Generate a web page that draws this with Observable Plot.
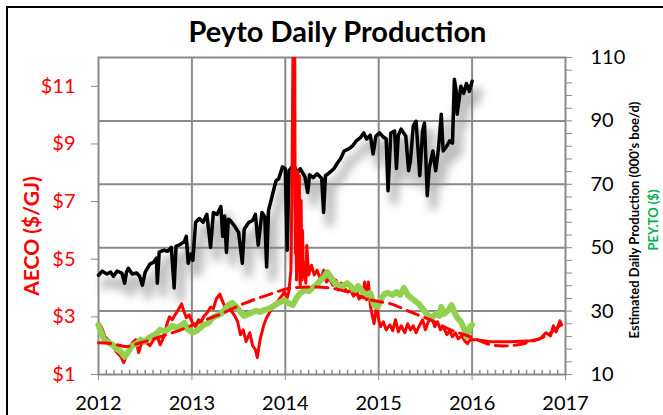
<!DOCTYPE html>
<html><head><meta charset="utf-8">
<script src="https://cdn.jsdelivr.net/npm/d3@7"></script>
<script src="https://cdn.jsdelivr.net/npm/@observablehq/plot@0.6"></script>
<style>
html,body{margin:0;padding:0;background:#fff;overflow:hidden;}
#wrap{position:relative;width:663px;height:415px;overflow:hidden;font-family:Lato,sans-serif;}
#border{position:absolute;left:6px;top:6px;width:720px;height:460px;border:2px solid #000;box-sizing:border-box;}
#title{position:absolute;left:0;top:16px;width:675px;text-align:center;font-weight:bold;font-size:29px;line-height:1;color:#000;}
#chart{position:absolute;left:0;top:0;}
</style></head><body>
<div id="wrap"><div id="border"></div><div id="chart"></div><div id="title">Peyto Daily Production</div></div>
<script>
// Estimated daily production (000's boe/d) — right axis
const production = [
[2012.00,41.3],[2012.04,42.6],[2012.09,41.7],[2012.13,42.3],[2012.16,41.0],[2012.20,42.6],[2012.25,42.0],[2012.28,38.8],
[2012.30,42.3],[2012.32,43.5],[2012.36,41.7],[2012.41,42.0],[2012.44,41.0],[2012.47,38.2],[2012.50,42.3],[2012.55,44.8],
[2012.59,45.4],[2012.62,46.7],[2012.63,38.8],[2012.65,48.6],[2012.70,49.2],[2012.74,48.9],[2012.78,50.1],[2012.81,37.3],
[2012.83,50.4],[2012.88,51.1],[2012.92,52.0],[2012.94,53.6],[2012.96,45.1],[2012.99,48.0],[2013.01,46.0],[2013.04,58.0],
[2013.08,59.2],[2013.12,58.0],[2013.16,60.5],[2013.20,50.1],[2013.23,61.1],[2013.27,60.5],[2013.31,63.0],[2013.33,53.6],
[2013.35,60.0],[2013.37,48.5],[2013.39,59.0],[2013.41,58.6],[2013.46,56.7],[2013.50,54.8],[2013.54,45.1],[2013.56,55.8],
[2013.61,58.0],[2013.65,58.6],[2013.68,60.5],[2013.71,50.8],[2013.75,61.1],[2013.78,59.8],[2013.80,43.9],[2013.82,61.7],
[2013.86,66.4],[2013.90,71.1],[2013.93,71.8],[2013.97,75.5],[2014.00,74.9],[2014.02,49.2],[2014.04,74.3],[2014.09,76.1],
[2014.13,73.6],[2014.16,74.9],[2014.21,72.4],[2014.24,67.4],[2014.26,73.0],[2014.30,72.1],[2014.34,73.3],[2014.39,71.8],
[2014.41,61.1],[2014.43,72.7],[2014.47,73.6],[2014.52,74.9],[2014.56,76.8],[2014.59,78.0],[2014.63,80.5],[2014.68,81.2],
[2014.72,82.1],[2014.76,83.7],[2014.81,84.9],[2014.84,86.2],[2014.87,84.3],[2014.91,85.5],[2014.94,79.6],[2014.97,85.2],
[2015.01,86.2],[2015.05,84.9],[2015.08,84.3],[2015.10,68.0],[2015.13,86.2],[2015.17,86.8],[2015.19,75.0],[2015.21,85.5],
[2015.24,87.4],[2015.29,85.2],[2015.32,74.3],[2015.34,77.4],[2015.37,88.4],[2015.40,89.9],[2015.44,72.7],[2015.47,86.8],
[2015.49,89.3],[2015.52,66.4],[2015.54,74.9],[2015.58,80.5],[2015.61,74.3],[2015.64,81.2],[2015.67,92.1],[2015.69,80.5],
[2015.73,82.1],[2015.76,83.7],[2015.79,83.0],[2015.81,103.1],[2015.83,99.3],[2015.84,92.1],[2015.88,100.9],[2015.91,98.7],
[2015.94,101.8],[2015.97,99.3],[2016.00,102.5]
];
// AECO gas price ($/GJ) — left axis
const aeco = [
[2012.00,2.79],[2012.03,2.66],[2012.07,2.31],[2012.11,2.17],[2012.15,2.03],[2012.19,1.79],[2012.24,1.62],[2012.27,1.41],
[2012.30,1.66],[2012.33,1.79],[2012.36,2.10],[2012.40,2.21],[2012.43,1.76],[2012.46,2.07],[2012.50,2.14],[2012.55,2.00],
[2012.59,2.21],[2012.63,2.31],[2012.66,2.03],[2012.70,2.31],[2012.73,2.72],[2012.76,3.00],[2012.79,2.90],[2012.82,3.07],
[2012.86,3.28],[2012.89,3.45],[2012.91,3.24],[2012.94,2.97],[2012.97,3.07],[2013.01,2.76],[2013.04,2.66],[2013.07,2.90],
[2013.10,2.83],[2013.13,3.03],[2013.17,3.17],[2013.20,3.34],[2013.23,3.28],[2013.26,3.62],[2013.30,3.79],[2013.33,3.52],
[2013.36,3.31],[2013.39,3.45],[2013.42,3.21],[2013.46,3.03],[2013.49,2.83],[2013.52,2.38],[2013.55,2.55],[2013.58,2.14],
[2013.62,2.45],[2013.65,2.00],[2013.68,1.86],[2013.70,1.59],[2013.73,2.21],[2013.77,2.72],[2013.80,2.97],[2013.83,3.14],
[2013.86,3.31],[2013.90,3.45],[2013.93,3.59],[2013.96,3.72],[2013.99,3.86],[2014.02,3.66],[2014.04,3.93],[2014.06,4.62],
[2014.07,7.03],[2014.085,13.5],[2014.10,13.5],[2014.105,7.2],[2014.11,5.2],[2014.115,7.72],[2014.12,4.28],[2014.125,7.9],
[2014.13,8.07],[2014.135,4.6],[2014.14,4.62],[2014.145,7.5],[2014.15,7.90],[2014.155,4.3],[2014.16,4.10],[2014.165,6.8],
[2014.17,7.03],[2014.175,4.5],[2014.18,4.28],[2014.185,6.0],[2014.19,4.97],[2014.22,4.17],[2014.23,5.48],[2014.25,4.45],
[2014.28,4.79],[2014.31,4.45],[2014.34,4.62],[2014.38,4.28],[2014.41,4.62],[2014.44,4.21],[2014.47,4.34],[2014.51,4.10],
[2014.54,4.28],[2014.57,3.93],[2014.60,4.17],[2014.63,4.00],[2014.67,3.86],[2014.70,3.93],[2014.73,3.72],[2014.76,3.93],
[2014.79,3.62],[2014.83,3.76],[2014.85,4.21],[2014.87,3.59],[2014.89,4.21],[2014.91,3.41],[2014.93,3.07],[2014.95,2.76],
[2014.98,3.41],[2015.00,2.90],[2015.02,2.66],[2015.05,2.83],[2015.08,2.55],[2015.12,2.72],[2015.15,2.52],[2015.18,2.90],
[2015.21,2.48],[2015.24,2.69],[2015.28,2.45],[2015.31,2.76],[2015.34,2.55],[2015.37,2.69],[2015.40,2.45],[2015.44,2.72],
[2015.47,2.90],[2015.50,2.55],[2015.53,2.83],[2015.57,2.97],[2015.60,2.66],[2015.63,2.83],[2015.66,2.55],[2015.69,2.66],
[2015.73,2.38],[2015.76,2.52],[2015.79,2.31],[2015.82,2.45],[2015.85,2.24],[2015.89,2.34],[2015.92,2.17],[2015.95,2.07],
[2015.98,2.21],[2016.04,2.21],[2016.20,2.14],[2016.41,2.14],[2016.63,2.17],[2016.73,2.24],[2016.79,2.45],[2016.84,2.34],
[2016.87,2.69],[2016.90,2.48],[2016.94,2.86],[2016.96,2.72]
];
// AECO trend / forward curve ($/GJ) — dashed, left axis
const aecoTrend = [
[2012.00,2.10],[2012.15,2.07],[2012.29,1.97],[2012.45,2.10],[2012.66,2.31],[2012.88,2.55],[2013.09,2.83],[2013.31,3.10],
[2013.57,3.48],[2013.84,3.79],[2014.06,4.00],[2014.48,4.00],[2014.70,3.83],[2014.91,3.59],[2015.13,3.45],[2015.34,3.17],
[2015.55,2.90],[2015.77,2.55],[2015.98,2.31],[2016.20,2.03],[2016.41,2.00],[2016.63,2.14],[2016.79,2.34],[2016.95,2.72]
];
// PEY.TO share price ($) — right axis
const peyto = [
[2012.00,25.7],[2012.03,23.2],[2012.06,21.0],[2012.11,20.0],[2012.15,19.4],[2012.19,18.2],[2012.24,17.2],[2012.28,15.6],
[2012.32,17.2],[2012.36,19.1],[2012.41,19.7],[2012.45,21.0],[2012.49,20.3],[2012.54,21.6],[2012.58,22.2],[2012.62,22.9],
[2012.66,24.1],[2012.71,23.5],[2012.75,24.4],[2012.79,25.4],[2012.84,24.7],[2012.88,25.4],[2012.92,26.3],[2012.96,24.1],
[2013.01,23.2],[2013.05,23.8],[2013.09,24.7],[2013.13,25.7],[2013.18,26.3],[2013.22,27.9],[2013.26,28.5],[2013.31,29.1],
[2013.35,30.4],[2013.39,31.9],[2013.43,32.6],[2013.48,31.3],[2013.52,29.7],[2013.56,28.5],[2013.61,29.1],[2013.65,29.7],
[2013.69,30.1],[2013.73,29.7],[2013.78,30.4],[2013.82,30.7],[2013.86,31.3],[2013.91,32.3],[2013.95,32.9],[2013.99,33.5],
[2014.03,32.6],[2014.08,31.9],[2014.12,34.1],[2014.16,35.7],[2014.21,36.6],[2014.25,36.3],[2014.29,37.3],[2014.33,38.2],
[2014.38,39.8],[2014.42,41.0],[2014.45,42.3],[2014.48,41.0],[2014.53,38.8],[2014.57,38.2],[2014.61,37.6],[2014.66,38.8],
[2014.70,37.9],[2014.74,36.3],[2014.78,37.9],[2014.83,36.0],[2014.87,35.1],[2014.91,35.7],[2014.95,31.9],[2014.99,31.3],
[2015.02,33.5],[2015.06,35.4],[2015.10,35.7],[2015.15,35.1],[2015.19,36.0],[2015.23,35.1],[2015.27,37.3],[2015.31,35.1],
[2015.35,34.1],[2015.39,33.2],[2015.44,31.9],[2015.48,30.4],[2015.52,28.8],[2015.57,27.9],[2015.61,29.1],[2015.65,28.5],
[2015.67,31.3],[2015.70,29.1],[2015.75,30.4],[2015.78,31.9],[2015.81,29.7],[2015.84,27.9],[2015.88,26.6],[2015.91,24.7],
[2015.94,21.9],[2015.97,24.7],[2016.00,25.7]
];
const yearTicks = [2012, 2013, 2014, 2015, 2016, 2017];
const priceTicks = [1, 3, 5, 7, 9, 11];
const rightTicks = [10, 30, 50, 70, 90, 110];

const RED = "#FF0000", GREEN = "#92D050", GRID = "#8A8A8A";
// left axis ($1..$12) shares the frame with the right axis (10..110)
const p2y = p => 10 + (p - 1) * 100 / 11;
const y2p = v => 1 + (v - 10) * 11 / 100;
const months = d3.range(2012, 2017, 1 / 12).filter(m => Math.abs(m - Math.round(m)) > 1e-6);
const minorRight = d3.range(10, 110.1, 4);

const svg = Plot.plot({
  width: 663, height: 415,
  marginLeft: 98, marginRight: 98, marginTop: 57, marginBottom: 41,
  style: {fontFamily: "Lato, sans-serif", fontSize: "20px", background: "transparent", overflow: "visible"},
  x: {domain: [2012, 2017]},
  y: {domain: [10, 110]},
  marks: [
    Plot.gridY([30, 50, 70, 90], {stroke: GRID, strokeOpacity: 1, strokeWidth: 2}),
    Plot.gridX([2013, 2014, 2015, 2016], {stroke: GRID, strokeOpacity: 1, strokeWidth: 2}),
    Plot.frame({stroke: GRID, strokeWidth: 2}),
    Plot.ruleX(months, {x: d => d, y1: 10, y2: 11.3, stroke: GRID, strokeWidth: 1.5}),
    Plot.axisX(yearTicks, {tickFormat: d => String(d), tickSize: 6, tickPadding: 15, stroke: GRID, fill: "#000", label: null}),
    Plot.axisY(priceTicks.map(p2y), {anchor: "left", tickFormat: v => "$" + Math.round(y2p(v)), tickSize: 7, tickPadding: 16, stroke: GRID, fill: RED, label: null}),
    Plot.axisY(minorRight, {anchor: "right", tickFormat: () => "", tickSize: 6, stroke: GRID, label: null}),
    Plot.axisY(rightTicks, {anchor: "right", tickSize: 0, tickPadding: 25, fill: "#000", label: null}),
    // drop shadow of production line
    Plot.line(production, {x: d => d[0], y: d => d[1], stroke: "#808080", strokeWidth: 9, strokeOpacity: 0.5, dx: 6, dy: 10, strokeLinejoin: "round"}),
    Plot.line(production, {x: d => d[0], y: d => d[1], stroke: "#000", strokeWidth: 3.5, strokeLinejoin: "round"}),
    Plot.line(aeco, {x: d => d[0], y: d => p2y(d[1]), stroke: RED, strokeWidth: 3, strokeLinejoin: "round", clip: true}),
    Plot.line(peyto, {x: d => d[0], y: d => d[1], stroke: GREEN, strokeWidth: 6, strokeLinejoin: "round"}),
    Plot.line(aecoTrend, {x: d => d[0], y: d => p2y(d[1]), stroke: RED, strokeWidth: 3, strokeDasharray: "12,7", curve: "catmull-rom"}),
    Plot.text(["AECO ($/GJ)"], {frameAnchor: "left", textAnchor: "middle", dx: -66, dy: 20, rotate: -90, fill: RED, fontWeight: "bold", fontSize: 21}),
    Plot.text(["Estimated Daily Production (000's boe/d)"], {frameAnchor: "right", textAnchor: "middle", dx: 69, dy: 4, rotate: -90, fill: "#000", fontWeight: "bold", fontSize: 13}),
    Plot.text(["PEY.TO ($)"], {frameAnchor: "right", textAnchor: "middle", dx: 88, dy: 4, rotate: -90, fill: "#00B050", fontWeight: "bold", fontSize: 13})
  ]
});
const sel = d3.select(svg);
const defs = sel.insert("defs", ":first-child");
defs.append("filter").attr("id", "shadowBlur").attr("x", "-5%").attr("y", "-15%").attr("width", "110%").attr("height", "140%")
  .append("feGaussianBlur").attr("stdDeviation", 4);
sel.selectAll('g[aria-label="line"]').filter((d, i) => i === 0).attr("filter", "url(#shadowBlur)");
document.getElementById("chart").appendChild(svg);
</script>
</body></html>
